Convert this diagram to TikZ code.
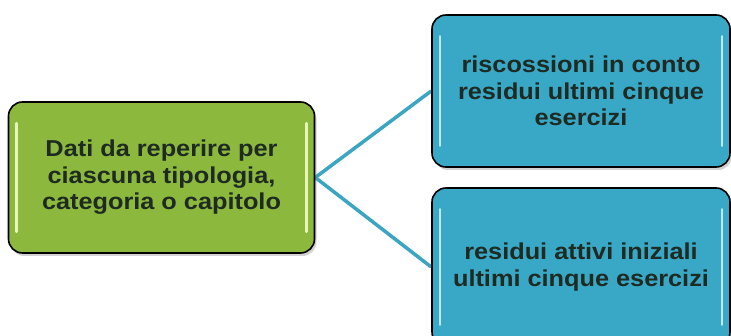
\documentclass[tikz,border=0pt]{standalone}
\usepackage{fontspec}
\setmainfont[FakeStretch=1.1]{Liberation Sans}
\usetikzlibrary{shadows,backgrounds}
\definecolor{boxgreen}{HTML}{8CB83E}
\definecolor{boxblue}{HTML}{38A8C6}
\definecolor{txt}{HTML}{1E2A22}
\definecolor{link}{HTML}{3AA6C2}
\definecolor{hlgreen}{HTML}{E8F5B8}
\definecolor{hlblue}{HTML}{BDEAF5}
\begin{document}
\begin{tikzpicture}[x=1pt,y=-1pt,
  box/.style={draw=black, line width=1.6pt, rounded corners=14pt, inner sep=0pt,
    font=\bfseries\fontsize{23}{26.5}\selectfont, text=txt, align=center,
    drop shadow={shadow xshift=2pt, shadow yshift=-3pt, opacity=0.35}},
  hl/.style={line width=2.5pt, line cap=round},
  conn/.style={draw=link, line width=3.5pt}
  ]
\useasboundingbox (0,0) rectangle (731,336);
\clip (0,0) rectangle (731,336);
\node[box, fill=boxgreen, minimum width=306pt, minimum height=151pt] (src) at (161.5,177.5)
  {Dati da reperire per\\ciascuna tipologia,\\categoria o capitolo};
\node[box, fill=boxblue, minimum width=298pt, minimum height=152pt] (top) at (581,91)
  {riscossioni in conto\\residui ultimi cinque\\esercizi};
\node[box, fill=boxblue, minimum width=298pt, minimum height=158pt] (bot) at (581,267)
  {residui attivi iniziali\\ultimi cinque esercizi};
\foreach \n/\c in {src/hlgreen, top/hlblue, bot/hlblue}{
  \draw[hl, \c] ([xshift=9pt,yshift=-22pt]\n.north west) -- ([xshift=9pt,yshift=22pt]\n.south west);
  \draw[hl, \c] ([xshift=-9pt,yshift=-22pt]\n.north east) -- ([xshift=-9pt,yshift=22pt]\n.south east);
}
\begin{scope}[on background layer]
  \fill[white] (0,0) rectangle (731,336);
  \draw[conn] (src.east) -- (top.west);
  \draw[conn] (src.east) -- (bot.west);
\end{scope}
\end{tikzpicture}
\end{document}
